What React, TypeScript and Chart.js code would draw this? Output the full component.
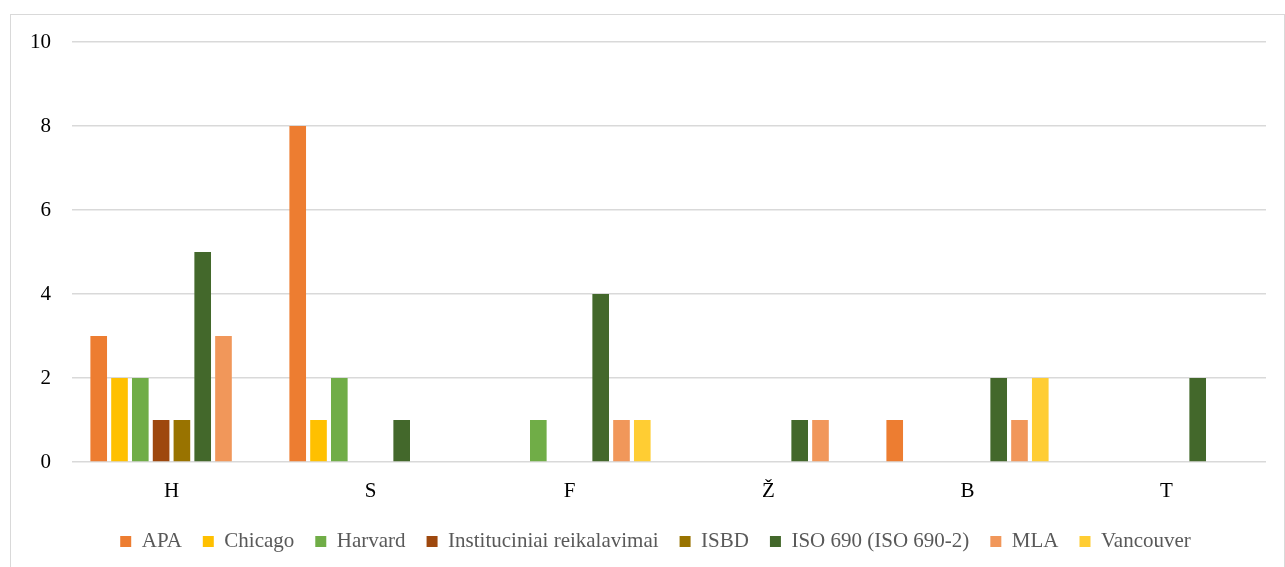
import React, { useEffect, useRef } from "react";
import { Chart, registerables } from "chart.js";

Chart.register(...registerables);

const categories = ["H", "S", "F", "Ž", "B", "T"];
const seriesNames = [
  "APA",
  "Chicago",
  "Harvard",
  "Instituciniai reikalavimai",
  "ISBD",
  "ISO 690 (ISO 690-2)",
  "MLA",
  "Vancouver",
];
const apa = [3, 8, 0, 0, 1, 0];
const chicago = [2, 1, 0, 0, 0, 0];
const harvard = [2, 2, 1, 0, 0, 0];
const instituciniai = [1, 0, 0, 0, 0, 0];
const isbd = [1, 0, 0, 0, 0, 0];
const iso690 = [5, 1, 4, 1, 2, 2];
const mla = [3, 0, 1, 1, 1, 0];
const vancouver = [0, 0, 1, 0, 2, 0];
const seriesValues = [apa, chicago, harvard, instituciniai, isbd, iso690, mla, vancouver];
const seriesColors = [
  "#ED7D31",
  "#FFC000",
  "#70AD47",
  "#9E480E",
  "#997300",
  "#43682B",
  "#F1975A",
  "#FFCD33",
];
const yTicks = [0, 2, 4, 6, 8, 10];

const FONT = "'Liberation Serif', 'Times New Roman', serif";

const legendShift = {
  id: "legendShift",
  afterLayout(chart: any) {
    if (chart.legend) {
      chart.legend.left += 12;
      chart.legend.right += 12;
    }
  },
};

export default function App() {
  const ref = useRef<HTMLCanvasElement | null>(null);

  useEffect(() => {
    const canvas = ref.current;
    if (!canvas) return;
    const chart = new Chart(canvas, {
      type: "bar",
      data: {
        labels: categories,
        datasets: seriesNames.map((name, i) => ({
          label: name,
          data: seriesValues[i],
          backgroundColor: seriesColors[i],
          borderWidth: 0,
          categoryPercentage: 0.836,
          barPercentage: 0.8,
        })),
      },
      plugins: [legendShift],
      options: {
        responsive: false,
        animation: false,
        layout: { padding: { left: 10, right: 18, top: 27, bottom: 23 } },
        plugins: {
          tooltip: { enabled: false },
          legend: {
            position: "bottom",
            labels: {
              boxWidth: 11,
              boxHeight: 11,
              padding: 21,
              color: "#595959",
              font: { family: FONT, size: 21 },
            },
          },
        },
        scales: {
          x: {
            grid: { display: false, drawTicks: false },
            border: { display: false },
            ticks: {
              color: "#000000",
              padding: 17,
              font: { family: FONT, size: 21 },
            },
            afterFit: (scale: any) => {
              scale.height = 48;
              scale.paddingLeft = 0;
              scale.paddingRight = 0;
            },
          },
          y: {
            min: 0,
            max: 10,
            afterBuildTicks: (scale: any) => {
              scale.ticks = yTicks.map((v) => ({ value: v }));
            },
            grid: { color: "#d9d9d9", lineWidth: 1.5, drawTicks: false },
            border: { display: false },
            ticks: {
              color: "#000000",
              padding: 21,
              font: { family: FONT, size: 21 },
            },
            afterFit: (scale: any) => {
              scale.width = 51;
              scale.paddingTop = 0;
              scale.paddingBottom = 0;
            },
          },
        },
      },
    });
    return () => chart.destroy();
  }, []);

  return (
    <div
      style={{
        position: "absolute",
        left: 10,
        top: 14,
        width: 1275,
        height: 553,
        border: "1px solid #d9d9d9",
        borderBottom: "none",
        boxSizing: "border-box",
        overflow: "hidden",
        background: "#ffffff",
      }}
    >
      <canvas ref={ref} width={1273} height={570} style={{ display: "block" }} />
    </div>
  );
}
